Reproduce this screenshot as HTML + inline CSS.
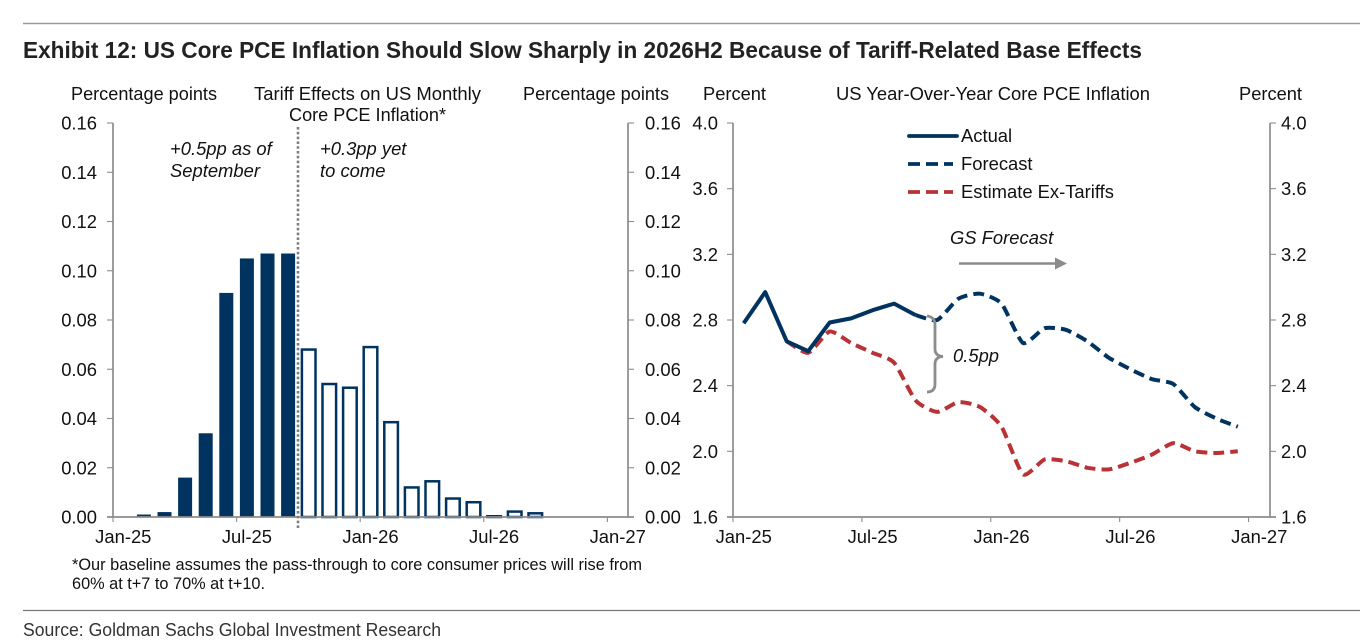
<!DOCTYPE html>
<html lang="en">
<head>
<meta charset="utf-8">
<title>Exhibit 12</title>
<style>
html,body{margin:0;padding:0;background:#fff;width:1360px;height:640px;overflow:hidden}
svg{display:block}
text{font-family:"Liberation Sans",Arial,sans-serif;fill:#111;font-size:18.4px}
.it{font-style:italic}
</style>
</head>
<body>
<svg id="chart" xmlns="http://www.w3.org/2000/svg" width="1360" height="640" viewBox="0 0 1360 640">
  <rect width="1360" height="640" fill="#fff"/>
  <line x1="23" x2="1360" y1="23.5" y2="23.5" stroke="#9a9a9a" stroke-width="1.4"/>
  <text x="23" y="58" style="font-size:23.5px;font-weight:700;fill:#222" textLength="1119" lengthAdjust="spacingAndGlyphs">Exhibit 12: US Core PCE Inflation Should Slow Sharply in 2026H2 Because of Tariff-Related Base Effects</text>

  <text x="71" y="100" textLength="146" lengthAdjust="spacingAndGlyphs">Percentage points</text>
  <text x="254" y="100" textLength="227" lengthAdjust="spacingAndGlyphs">Tariff Effects on US Monthly</text>
  <text x="289" y="121" textLength="157" lengthAdjust="spacingAndGlyphs">Core PCE Inflation*</text>
  <text x="523" y="100" textLength="146" lengthAdjust="spacingAndGlyphs">Percentage points</text>
  <text x="703" y="100" textLength="63" lengthAdjust="spacingAndGlyphs">Percent</text>
  <text x="836" y="100" textLength="314" lengthAdjust="spacingAndGlyphs">US Year-Over-Year Core PCE Inflation</text>
  <text x="1239" y="100" textLength="63" lengthAdjust="spacingAndGlyphs">Percent</text>

  <g id="left-plot"></g>
  <g id="right-plot"></g>

  <text class="it" x="170" y="155">+0.5pp as of</text>
  <text class="it" x="170" y="177">September</text>
  <text class="it" x="320" y="155">+0.3pp yet</text>
  <text class="it" x="320" y="177">to come</text>

  <g>
    <line x1="909" x2="957" y1="136" y2="136" stroke="#00335f" stroke-width="3.8" stroke-linecap="round"/>
    <text x="961" y="142">Actual</text>
    <line x1="908" x2="953" y1="164" y2="164" stroke="#00335f" stroke-width="3.8" stroke-dasharray="12 6"/>
    <text x="961" y="170">Forecast</text>
    <line x1="908" x2="953" y1="192" y2="192" stroke="#b93236" stroke-width="3.8" stroke-dasharray="12 6"/>
    <text x="961" y="198">Estimate Ex-Tariffs</text>
  </g>

  <text class="it" x="950" y="244">GS Forecast</text>
  <g>
    <line x1="959" x2="1057" y1="263.5" y2="263.5" stroke="#8c8c8c" stroke-width="2.6"/>
    <path d="M1055 257.5 L1067 263.5 L1055 269.5 Z" fill="#8c8c8c"/>
  </g>
  <path d="M927 316 Q935 317 935 325 L935 349 Q935 356 943 356.5 Q935 357 935 364 L935 384 Q935 392 927 392" fill="none" stroke="#8c8c8c" stroke-width="2.8"/>
  <text class="it" x="953" y="362">0.5pp</text>

  <text x="72" y="570" style="font-size:16.4px" textLength="570" lengthAdjust="spacingAndGlyphs">*Our baseline assumes the pass-through to core consumer prices will rise from</text>
  <text x="72" y="589" style="font-size:16.4px" textLength="193" lengthAdjust="spacingAndGlyphs">60% at t+7 to 70% at t+10.</text>

  <line x1="23" x2="1360" y1="610.5" y2="610.5" stroke="#777" stroke-width="1.2"/>
  <text x="23" y="636" style="font-size:18px;fill:#333" textLength="418" lengthAdjust="spacingAndGlyphs">Source: Goldman Sachs Global Investment Research</text>
</svg>
<script>
var xTickLabels = ['Jan-25', 'Jul-25', 'Jan-26', 'Jul-26', 'Jan-27'];
var xTickMonths = [0, 6, 12, 18, 24];
var barTicks = ['0.00', '0.02', '0.04', '0.06', '0.08', '0.10', '0.12', '0.14', '0.16'];
var lineTicks = ['1.6', '2.0', '2.4', '2.8', '3.2', '3.6', '4.0'];

// Monthly tariff effects; first value is Jan-25, projected series follows on from Oct-25
var actualBars = [0, 0.001, 0.002, 0.016, 0.034, 0.091, 0.105, 0.107, 0.107];
var projectedBars = [0.068, 0.054, 0.0525, 0.069, 0.0385, 0.012, 0.0145, 0.0075, 0.006, 0.0003, 0.0022, 0.0015];

// Core PCE YoY; actual starts Jan-25, forecast starts Sep-25, ex-tariffs starts Mar-25
var actualLine = [2.78, 2.97, 2.67, 2.61, 2.785, 2.81, 2.86, 2.90, 2.83];
var forecastLine = [2.83, 2.80, 2.93, 2.96, 2.90, 2.66, 2.75, 2.74, 2.67, 2.57, 2.50, 2.44, 2.41, 2.27, 2.20, 2.15];
var exTariffLine = [2.67, 2.60, 2.73, 2.66, 2.60, 2.54, 2.31, 2.24, 2.30, 2.27, 2.15, 1.86, 1.95, 1.94, 1.90, 1.89, 1.93, 1.98, 2.05, 2.00, 1.99, 2.00];

var NS = 'http://www.w3.org/2000/svg';
var leftG = document.getElementById('left-plot');
var rightG = document.getElementById('right-plot');

function make(parent, tag, attrs, content) {
  var el = document.createElementNS(NS, tag);
  for (var k in attrs) el.setAttribute(k, attrs[k]);
  if (content !== undefined) el.textContent = content;
  parent.appendChild(el);
  return el;
}

var AXIS = '#8c8c8c';
var NAVY = '#00335f';
var RED = '#b93236';
var TOP = 123, BOTTOM = 517;

var L = {x0: 113, x1: 628, months: 25, min: 0, max: 0.16};
var R = {x0: 733, x1: 1270, months: 25, min: 1.6, max: 4.0};
function monthEdge(s, m) { return s.x0 + m * (s.x1 - s.x0) / s.months; }
function monthMid(s, m) { return monthEdge(s, m + 0.5); }
function yScale(s, v) { return BOTTOM - (v - s.min) / (s.max - s.min) * (BOTTOM - TOP); }

function drawBars() {
  var w = 14;
  actualBars.forEach(function (v, i) {
    if (v <= 0) return;
    var y = yScale(L, v);
    var bar = make(leftG, 'rect', {x: monthMid(L, i) - w / 2, y: y, width: w, height: BOTTOM - y, fill: NAVY});
    
    
  });
  projectedBars.forEach(function (v, i) {
    var m = actualBars.length + i;
    var y = yScale(L, v);
    var bar = make(leftG, 'rect', {x: monthMid(L, m) - w / 2 + 0.2, y: y, width: w - 0.4, height: BOTTOM - y, fill: '#fff', stroke: NAVY, 'stroke-width': 2.5});
    
    
  });
}

function drawAxes(g, s, ticks, leftLabelX, rightLabelX) {
  var base = make(g, 'line', {x1: s.x0 - 6, x2: s.x1 + 6, y1: BOTTOM, y2: BOTTOM, stroke: AXIS, 'stroke-width': 1.7});
  
  
  var yl = make(g, 'line', {x1: s.x0, x2: s.x0, y1: TOP, y2: BOTTOM, stroke: AXIS, 'stroke-width': 1.7});
  
  
  var yr = make(g, 'line', {x1: s.x1, x2: s.x1, y1: TOP, y2: BOTTOM, stroke: AXIS, 'stroke-width': 1.7});
  
  
  ticks.forEach(function (t) {
    var y = yScale(s, parseFloat(t));
    make(g, 'line', {x1: s.x0 - 6, x2: s.x0, y1: y, y2: y, stroke: AXIS, 'stroke-width': 1.1});
    make(g, 'line', {x1: s.x1, x2: s.x1 + 6, y1: y, y2: y, stroke: AXIS, 'stroke-width': 1.1});
    var a = make(g, 'text', {x: leftLabelX, y: y + 6.5, 'text-anchor': 'end'}, t);
    
    
    var b = make(g, 'text', {x: rightLabelX, y: y + 6.5}, t);
    
    
  });
  xTickLabels.forEach(function (t, i) {
    var m = xTickMonths[i];
    var x = monthEdge(s, m);
    make(g, 'line', {x1: x, x2: x, y1: BOTTOM, y2: BOTTOM + 5, stroke: AXIS, 'stroke-width': 1.1});
    var lab = make(g, 'text', {x: monthMid(s, m), y: 543, 'text-anchor': 'middle'}, t);
    
    
  });
}

function points(values, startMonth) {
  return values.map(function (v, i) {
    return [monthMid(R, startMonth + i), yScale(R, v)];
  });
}
function straightPath(p) {
  return p.map(function (q, i) { return (i ? 'L' : 'M') + q[0].toFixed(1) + ' ' + q[1].toFixed(1); }).join(' ');
}
function smoothPath(p) {
  var d = 'M' + p[0][0].toFixed(1) + ' ' + p[0][1].toFixed(1);
  var t = 0.1;
  for (var i = 0; i < p.length - 1; i++) {
    var a = p[Math.max(i - 1, 0)], b = p[i], c = p[i + 1], e = p[Math.min(i + 2, p.length - 1)];
    d += ' C' + (b[0] + (c[0] - a[0]) * t).toFixed(1) + ' ' + (b[1] + (c[1] - a[1]) * t).toFixed(1) +
         ' ' + (c[0] - (e[0] - b[0]) * t).toFixed(1) + ' ' + (c[1] - (e[1] - b[1]) * t).toFixed(1) +
         ' ' + c[0].toFixed(1) + ' ' + c[1].toFixed(1);
  }
  return d;
}
function drawLines() {
  var red = make(rightG, 'path', {d: smoothPath(points(exTariffLine, actualLine.length - 7)), fill: 'none', stroke: RED, 'stroke-width': 4, 'stroke-dasharray': '11 6'});
  
  
  var act = make(rightG, 'path', {d: straightPath(points(actualLine, 0)), fill: 'none', stroke: NAVY, 'stroke-width': 4, 'stroke-linejoin': 'round'});
  
  
  var fc = make(rightG, 'path', {d: smoothPath(points(forecastLine, actualLine.length - 1)), fill: 'none', stroke: NAVY, 'stroke-width': 4, 'stroke-dasharray': '11 6'});
  
  
}

drawBars();
drawAxes(leftG, L, barTicks, 97, 645);
drawAxes(rightG, R, lineTicks, 718, 1281);
drawLines();

var divider = make(leftG, 'line', {x1: 298, x2: 298, y1: 127, y2: 528, stroke: '#7f7f7f', 'stroke-width': 2.6, 'stroke-dasharray': '2.6 2.2'});


</script>
</body>
</html>
